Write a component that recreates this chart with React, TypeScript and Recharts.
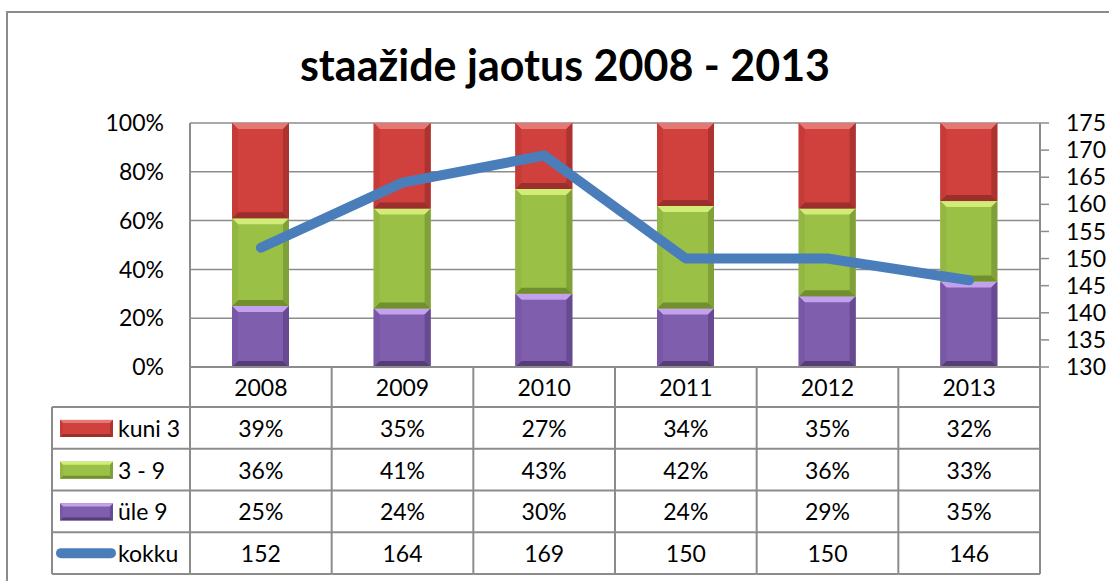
import React from "react";
import { ComposedChart, Bar, Line, XAxis, YAxis, CartesianGrid } from "recharts";

const years = ["2008", "2009", "2010", "2011", "2012", "2013"];
const kuni3 = [39, 35, 27, 34, 35, 32];
const kolm9 = [36, 41, 43, 42, 36, 33];
const ule9 = [25, 24, 30, 24, 29, 35];
const kokku = [152, 164, 169, 150, 150, 146];
const pctTicks = [0, 20, 40, 60, 80, 100];
const countTicks = [130, 135, 140, 145, 150, 155, 160, 165, 170, 175];

const data = years.map((year, i) => ({
  year,
  kuni3: kuni3[i],
  kolm9: kolm9[i],
  ule9: ule9[i],
  kokku: kokku[i],
}));

const FONT = "Lato, 'Noto Sans', sans-serif";
const FS = 23;
const GRID = "#8c8c8c";
const LINE_BLUE = "#4a7ebb";

type Bevel = { base: string; top: string; bottom: string; left: string; right: string };
const RED: Bevel = { base: "#d0413d", top: "#e57874", bottom: "#9a2f2c", left: "#c63b37", right: "#ad3330" };
const GREEN: Bevel = { base: "#9bc046", top: "#d2ec78", bottom: "#728f30", left: "#93b743", right: "#80a03a" };
const PURPLE: Bevel = { base: "#7f5ead", top: "#c3a1ec", bottom: "#553d78", left: "#7857a6", right: "#684a91" };

// chart geometry
const W = 1109;
const H = 581;
const PLOT_LEFT = 190;
const PLOT_RIGHT = 1040;
const PLOT_TOP = 123;
const PLOT_BOTTOM = 367;
const LEFT_AXIS_W = 100;
const RIGHT_AXIS_W = W - PLOT_RIGHT;
const BAND = (PLOT_RIGHT - PLOT_LEFT) / years.length;
const LEGEND_W = 138;
const HEAD_H = 40;
const ROW_H = 41.75;

function bevelPaths(x: number, y: number, w: number, h: number, b0: number, c: Bevel) {
  const b = Math.min(b0, h / 2, w / 2);
  const p = (pts: number[][]) => pts.map((q) => q.join(",")).join(" ");
  return (
    <g>
      <rect x={x} y={y} width={w} height={h} fill={c.base} />
      <polygon points={p([[x, y], [x + w, y], [x + w - b, y + b], [x + b, y + b]])} fill={c.top} />
      <polygon points={p([[x, y + h], [x + w, y + h], [x + w - b, y + h - b], [x + b, y + h - b]])} fill={c.bottom} />
      <polygon points={p([[x, y], [x + b, y + b], [x + b, y + h - b], [x, y + h]])} fill={c.left} />
      <polygon points={p([[x + w, y], [x + w - b, y + b], [x + w - b, y + h - b], [x + w, y + h]])} fill={c.right} />
    </g>
  );
}

const bevelShape = (c: Bevel) => (props: any) => {
  const { x, y, width, height } = props;
  if (!height || height <= 0) return <g />;
  return bevelPaths(x, y, width, height, 6, c);
};

const tableRows = [
  { label: "kuni 3", values: kuni3.map((v) => `${v}%`), colors: RED as Bevel | null },
  { label: "3 - 9", values: kolm9.map((v) => `${v}%`), colors: GREEN as Bevel | null },
  { label: "üle 9", values: ule9.map((v) => `${v}%`), colors: PURPLE as Bevel | null },
  { label: "kokku", values: kokku.map((v) => `${v}`), colors: null },
];

function TableTick(props: any) {
  const { x, y, payload, index } = props;
  const left = x - BAND / 2;
  const right = x + BAND / 2;
  const bottom = y + HEAD_H + ROW_H * tableRows.length;
  const first = index === 0;
  const legLeft = left - LEGEND_W;
  return (
    <g fontFamily={FONT} fontSize={FS} fill="#000">
      <text x={x} y={y + HEAD_H / 2} textAnchor="middle" dominantBaseline="central">
        {payload.value}
      </text>
      <line x1={right} y1={y} x2={right} y2={bottom} stroke={GRID} strokeWidth={2} />
      {first && <line x1={left} y1={y} x2={left} y2={bottom} stroke={GRID} strokeWidth={2} />}
      {first && <line x1={legLeft} y1={y + HEAD_H} x2={legLeft} y2={bottom} stroke={GRID} strokeWidth={2} />}
      {tableRows.map((row, r) => {
        const top = y + HEAD_H + r * ROW_H;
        const cy = top + ROW_H / 2;
        return (
          <g key={row.label}>
            <line x1={first ? legLeft : left} y1={top} x2={right} y2={top} stroke={GRID} strokeWidth={2} />
            <text x={x} y={cy} textAnchor="middle" dominantBaseline="central">
              {row.values[index]}
            </text>
            {first && (
              <g>
                {row.colors ? (
                  bevelPaths(legLeft + 8, cy - 8, 53, 17, 3, row.colors)
                ) : (
                  <line x1={legLeft + 9} y1={cy} x2={legLeft + 59} y2={cy} stroke={LINE_BLUE} strokeWidth={10} strokeLinecap="round" />
                )}
                <text x={legLeft + 66} y={cy} dominantBaseline="central">
                  {row.label}
                </text>
              </g>
            )}
          </g>
        );
      })}
      <line x1={first ? legLeft : left} y1={bottom} x2={right} y2={bottom} stroke={GRID} strokeWidth={2} />
    </g>
  );
}

export default function App() {
  return (
    <div style={{ position: "absolute", left: 0, top: 0, width: W, height: H, background: "#fff", overflow: "hidden" }}>
      <div
        style={{
          position: "absolute",
          left: 6,
          top: 11,
          width: W,
          height: H,
          borderTop: `2px solid ${GRID}`,
          borderLeft: `2px solid ${GRID}`,
        }}
      />
      <div
        style={{
          position: "absolute",
          left: 0,
          width: 1130,
          top: 38,
          textAlign: "center",
          fontFamily: FONT,
          fontWeight: 700,
          fontSize: 43,
          lineHeight: "54px",
          color: "#000",
        }}
      >
        staažide jaotus 2008 - 2013
      </div>
      <div style={{ position: "absolute", left: 0, top: 0 }}>
        <ComposedChart
          width={W}
          height={H}
          data={data}
          margin={{ top: PLOT_TOP, right: 0, bottom: 0, left: PLOT_LEFT - LEFT_AXIS_W }}
        >
          <CartesianGrid yAxisId="l" vertical={false} stroke={GRID} strokeWidth={1.5} />
          <XAxis
            dataKey="year"
            interval={0}
            height={H - PLOT_BOTTOM}
            tickLine={false}
            tickSize={0}
            tickMargin={0}
            axisLine={{ stroke: GRID, strokeWidth: 2 }}
            tick={<TableTick />}
          />
          <YAxis
            yAxisId="l"
            width={LEFT_AXIS_W}
            domain={[0, 100]}
            ticks={pctTicks}
            interval={0}
            tickFormatter={(v) => `${v}%`}
            tickLine={false}
            tickSize={0}
            tickMargin={26}
            axisLine={{ stroke: GRID, strokeWidth: 2 }}
            tick={{ fill: "#000", fontSize: FS, fontFamily: FONT }}
          />
          <YAxis
            yAxisId="r"
            orientation="right"
            width={RIGHT_AXIS_W}
            domain={[130, 175]}
            ticks={countTicks}
            interval={0}
            tickSize={9}
            tickMargin={17}
            tickLine={{ stroke: GRID, strokeWidth: 1.5 }}
            axisLine={{ stroke: GRID, strokeWidth: 2 }}
            tick={{ fill: "#000", fontSize: FS, fontFamily: FONT, textAnchor: "start" }}
          />
          <Bar yAxisId="l" dataKey="ule9" stackId="a" barSize={57} shape={bevelShape(PURPLE)} isAnimationActive={false} />
          <Bar yAxisId="l" dataKey="kolm9" stackId="a" barSize={57} shape={bevelShape(GREEN)} isAnimationActive={false} />
          <Bar yAxisId="l" dataKey="kuni3" stackId="a" barSize={57} shape={bevelShape(RED)} isAnimationActive={false} />
          <Line
            yAxisId="r"
            type="linear"
            dataKey="kokku"
            stroke={LINE_BLUE}
            strokeWidth={10}
            strokeLinecap="round"
            strokeLinejoin="round"
            dot={false}
            activeDot={false}
            isAnimationActive={false}
          />
        </ComposedChart>
      </div>
    </div>
  );
}
